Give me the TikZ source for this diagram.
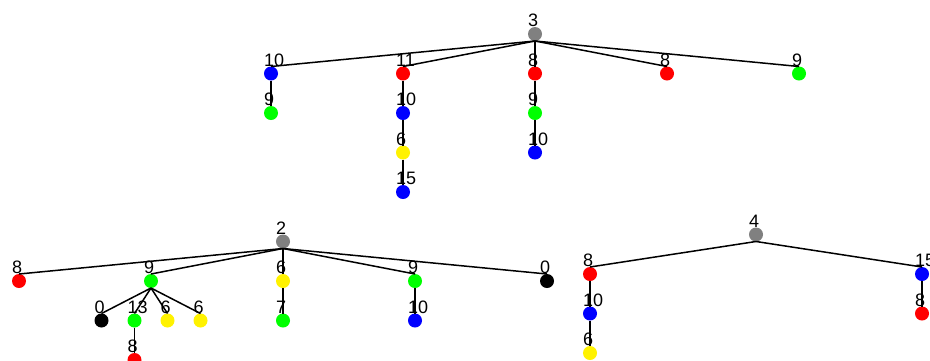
\documentclass[tikz,border=0pt]{standalone}
\usepackage{fontspec}
\setmainfont{Liberation Sans}
\newcommand{\lblfont}{\fontsize{18}{18}\selectfont}

\begin{document}
\begin{tikzpicture}[x=1pt, y=1pt,
    vert/.style={circle, fill=#1, minimum size=14pt, inner sep=0pt, outer sep=0pt},
    num/.style={label={[anchor=south west, xshift=-7pt, inner sep=0pt, font=\lblfont]above:#1}},
    level distance=39.5pt,
    level 2/.style={sibling distance=33pt},
    parent anchor=south, child anchor=north,
    edge from parent/.style={draw, line width=1.5pt}]
    \useasboundingbox (0,0) rectangle (930,-360);
    \clip (0,0) rectangle (930,-360);

    % upper tree
    \begin{scope}[level 1/.style={sibling distance=132pt}]
        \node[vert=gray, num=3] (root3) at (535,-34) {}
        child {node[vert=blue, num=10] {}
                child {node[vert=green, num=9] {}}}
        child {node[vert=red, num=11] {}
                child {node[vert=blue, num=10] {}
                        child {node[vert=yellow, num=6] {}
                                child {node[vert=blue, num=15] {}}}}}
        child {node[vert=red, num=8] {}
                child {node[vert=green, num=9] {}
                        child {node[vert=blue, num=10] {}}}}
        child {node[vert=red, num=8] {}}
        child {node[vert=green, num=9] {}};
    \end{scope}

    % lower left tree
    \begin{scope}[level 1/.style={sibling distance=132pt}]
        \node[vert=gray, num=2] (root2) at (283,-241.5) {}
        child {node[vert=red, num=8] {}}
        child {node[vert=green, num=9] {}
                child {node[vert=black, num=0] {}}
                child {node[vert=green, num=13] {}
                        child {node[vert=red, num=8] {}}}
                child {node[vert=yellow, num=6] {}}
                child {node[vert=yellow, num=6] {}}}
        child {node[vert=yellow, num=6] {}
                child {node[vert=green, num=7] {}}}
        child {node[vert=green, num=9] {}
                child {node[vert=blue, num=10] {}}}
        child {node[vert=black, num=0] {}};
    \end{scope}

    % lower right tree
    \begin{scope}[level 1/.style={sibling distance=332pt}]
        \node[vert=gray, num=4] (root4) at (756,-234.5) {}
        child {node[vert=red, num=8] {}
                child {node[vert=blue, num=10] {}
                        child {node[vert=yellow, num=6] {}}}}
        child {node[vert=blue, num=15] {}
                child {node[vert=red, num=8] {}}};
    \end{scope}
\end{tikzpicture}
\end{document}
